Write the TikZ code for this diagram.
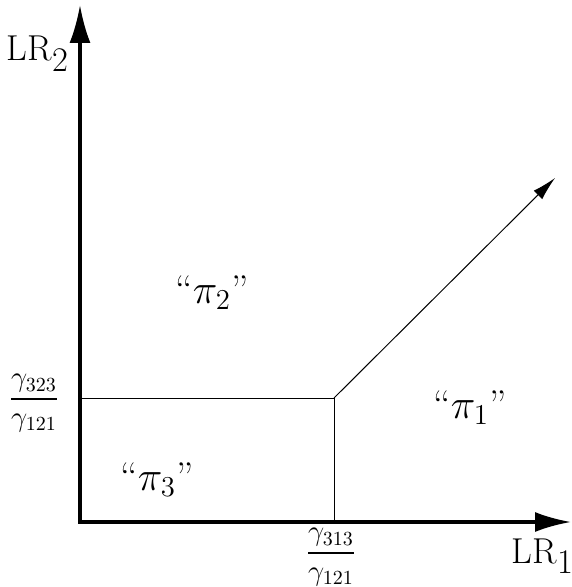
\documentclass[tikz,border=0pt]{standalone}
\usepackage{amsmath}
\usetikzlibrary{arrows.meta}
\tikzset{>=latex}
\tikzset{
  axis/.style={line width=1.6pt, line join=miter, {Latex[length=19pt, width=10.5pt]}-{Latex[length=18pt, width=10pt]}},
  boundary/.style={line width=0.5pt},
  region/.style={font=\fontsize{20}{24}\selectfont, anchor=base},
  axlabel/.style={font=\fontsize{18}{21}\selectfont, anchor=base},
  bound/.style={font=\fontsize{14}{17}\selectfont, inner sep=0pt}
}

\begin{document}
\begin{tikzpicture}[x=0.5pt, y=-0.5pt]
\useasboundingbox (0,0) rectangle (571,587);

\coordinate (O) at (80,522);
\coordinate (Xend) at (571,522);
\coordinate (Yend) at (80,5);
\coordinate (C) at (334,398);
\coordinate (Cy) at (80,398);
\coordinate (Cx) at (334,522);
\coordinate (Dend) at (555,178);

\draw[boundary] (Cy) -- (C) -- (Cx);
\draw[boundary, -{Latex[length=12pt, width=6pt]}] (C) -- (Dend);
\draw[axis] (Yend) -- (O) -- (Xend);

\node[axlabel] (lrtwo) at (38,61) {LR$_{\textstyle 2}$};
\node[axlabel] (lrone) at (543,563) {LR$_{\textstyle 1}$};

\node[bound] (gy) at (34,403) {$\dfrac{\gamma_{323}}{\gamma_{121}}$};
\node[bound] (gx) at (331,557) {$\dfrac{\gamma_{313}}{\gamma_{121}}$};

\node[region] (pione) at (470,418) {``$\pi_1$''};
\node[region] (pitwo) at (212,303) {``$\pi_2$''};
\node[region] (pithree) at (157,490) {``$\pi_3$''};

\end{tikzpicture}
\end{document}
